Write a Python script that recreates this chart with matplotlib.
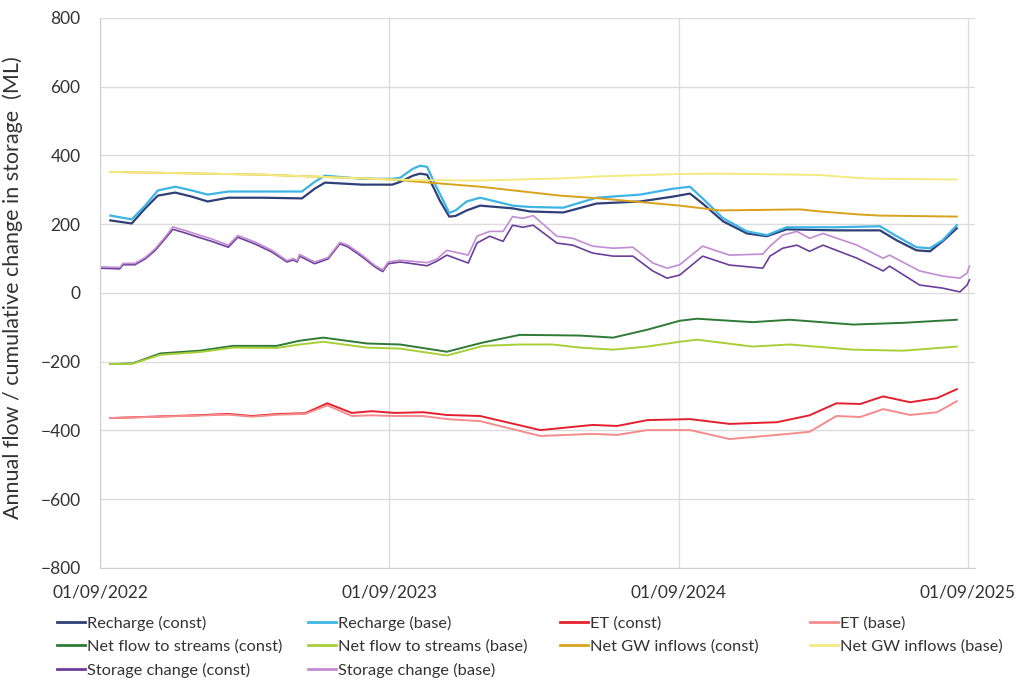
import matplotlib
matplotlib.use("Agg")
import matplotlib.pyplot as plt
import matplotlib.dates as mdates
from matplotlib.lines import Line2D
import pandas as pd

plt.rcParams["font.family"] = ["Lato", "DejaVu Sans"]

# recharge, ML per year (const vs base climate)
recharge_dates = [
    "2022-09-14", "2022-10-11", "2022-10-28", "2022-11-13", "2022-12-05",
    "2022-12-26", "2023-01-15", "2023-02-10", "2023-03-25", "2023-05-14",
    "2023-05-30", "2023-06-12", "2023-07-29", "2023-09-05", "2023-09-15",
    "2023-10-01", "2023-10-10", "2023-10-19", "2023-10-28", "2023-11-04",
    "2023-11-16", "2023-11-24", "2023-12-08", "2023-12-25", "2024-02-04",
    "2024-02-26", "2024-04-08", "2024-05-20", "2024-07-14", "2024-08-24",
    "2024-09-15", "2024-10-01", "2024-10-27", "2024-11-26", "2024-12-21",
    "2025-01-15", "2025-03-19", "2025-05-13", "2025-06-03", "2025-06-28",
    "2025-07-15", "2025-07-31", "2025-08-18",
]
recharge_const = [211, 202, 246, 283, 292, 280, 266, 277, 277, 275,
                  303, 321, 315, 315, 323, 341, 347, 344, 303, 269,
                  222, 224, 240, 254, 246, 237, 234, 260, 266, 280,
                  289, 260, 208, 173, 165, 185, 182, 182, 153, 124,
                  121, 150, 188]
recharge_base = [225, 214, 254, 298, 309, 298, 286, 295, 295, 295,
                 323, 341, 332, 332, 335, 361, 370, 367, 322, 289,
                 233, 240, 266, 277, 254, 250, 248, 277, 286, 303,
                 309, 275, 217, 179, 168, 191, 191, 194, 165, 133,
                 130, 153, 197]

# evapotranspiration
et_dates = [
    "2022-09-14", "2022-12-30", "2023-02-10", "2023-03-12", "2023-04-14",
    "2023-05-18", "2023-06-15", "2023-07-16", "2023-08-10", "2023-09-08",
    "2023-10-14", "2023-11-13", "2023-12-25", "2024-03-10", "2024-05-15",
    "2024-06-15", "2024-07-23", "2024-09-15", "2024-11-04", "2025-01-03",
    "2025-02-13", "2025-03-19", "2025-04-18", "2025-05-17", "2025-06-20",
    "2025-07-24", "2025-08-18",
]
et_const = [-364, -356, -352, -358, -352, -350, -321, -349, -344, -349,
            -347, -355, -358, -399, -384, -387, -370, -367, -381, -376,
            -356, -321, -323, -301, -318, -306, -280]
et_base = [-364, -357, -354, -360, -354, -352, -327, -358, -356, -358,
           -358, -367, -373, -416, -410, -413, -399, -399, -425, -413,
           -404, -358, -361, -338, -355, -347, -315]

# net flow to streams
streams_dates = [
    "2022-09-14", "2022-10-12", "2022-11-16", "2023-01-05", "2023-02-16",
    "2023-04-12", "2023-05-11", "2023-06-10", "2023-08-04", "2023-09-15",
    "2023-11-13", "2023-12-29", "2024-02-13", "2024-03-26", "2024-04-29",
    "2024-06-10", "2024-07-23", "2024-09-02", "2024-09-24", "2024-12-03",
    "2025-01-19", "2025-04-09", "2025-06-11", "2025-08-18",
]
streams_const = [-207, -205, -176, -168, -154, -154, -139, -130, -147, -150,
                 -171, -144, -122, -123, -124, -130, -107, -81, -75, -85,
                 -78, -92, -87, -78]
streams_base = [-207, -206, -180, -172, -159, -160, -150, -142, -159, -162,
                -182, -154, -150, -150, -159, -165, -156, -142, -136, -156,
                -150, -165, -168, -156]

# net groundwater inflows
gw_dates = [
    "2022-09-14", "2023-03-25", "2023-09-05", "2023-10-10", "2023-12-25",
    "2024-04-04", "2024-05-24", "2024-09-02", "2024-10-23", "2025-02-01",
    "2025-02-26", "2025-04-18", "2025-05-13", "2025-08-18",
]
gw_const = [352, 344, 330, 323, 309, 283, 275, 254, 240, 243, 237, 228, 225, 222]
gw_base = [352, 344, 330, 328, 327, 333, 339, 346, 347, 344, 343, 334, 332, 330]

# cumulative change in storage
storage_dates = [
    "2022-09-01", "2022-09-26", "2022-09-30", "2022-10-15", "2022-10-28",
    "2022-11-09", "2022-11-22", "2022-12-02", "2022-12-17", "2022-12-30",
    "2023-01-20", "2023-02-10", "2023-02-22", "2023-03-16", "2023-04-06",
    "2023-04-25", "2023-05-03", "2023-05-08", "2023-05-11", "2023-05-30",
    "2023-06-16", "2023-07-01", "2023-07-11", "2023-07-29", "2023-08-14",
    "2023-08-24", "2023-08-31", "2023-09-15", "2023-10-01", "2023-10-19",
    "2023-10-31", "2023-11-13", "2023-12-10", "2023-12-21", "2024-01-06",
    "2024-01-23", "2024-02-04", "2024-02-17", "2024-03-01", "2024-03-31",
    "2024-04-20", "2024-05-15", "2024-06-10", "2024-07-05", "2024-07-30",
    "2024-08-17", "2024-09-02", "2024-10-01", "2024-11-04", "2024-12-16",
    "2024-12-25", "2025-01-10", "2025-01-28", "2025-02-13", "2025-03-02",
    "2025-04-14", "2025-05-17", "2025-05-25", "2025-07-02", "2025-07-31",
    "2025-08-22", "2025-08-31", "2025-09-03",
]
storage_const = [72, 70, 82, 82, 99, 122, 157, 185, 175, 165,
                 150, 133, 162, 142, 119, 90, 96, 90, 107, 85,
                 99, 143, 134, 105, 76, 62, 85, 90, 85, 79,
                 92, 110, 87, 145, 165, 150, 197, 191, 197, 145,
                 139, 116, 107, 107, 64, 43, 52, 107, 81, 72,
                 107, 130, 139, 121, 139, 101, 64, 78, 23, 14,
                 3, 23, 38]
storage_base = [76, 74, 86, 86, 103, 127, 162, 192, 182, 172,
                157, 139, 167, 148, 124, 94, 100, 94, 112, 90,
                103, 147, 139, 110, 80, 67, 90, 95, 92, 88,
                98, 124, 110, 165, 179, 179, 222, 217, 225, 165,
                159, 136, 130, 133, 87, 72, 82, 136, 110, 113,
                136, 168, 179, 159, 173, 139, 101, 110, 64, 49,
                43, 58, 78]

year_ticks = ["2022-09-01", "2023-09-01", "2024-09-01", "2025-09-01"]

series = [
    ("Recharge (const)", recharge_dates, recharge_const, "#2f3f78", 1.6),
    ("Recharge (base)", recharge_dates, recharge_base, "#3cb4e5", 1.6),
    ("ET (const)", et_dates, et_const, "#e5202e", 1.4),
    ("ET (base)", et_dates, et_base, "#f48c8c", 1.4),
    ("Net flow to streams (const)", streams_dates, streams_const, "#2f7a35", 1.4),
    ("Net flow to streams (base)", streams_dates, streams_base, "#a9cf38", 1.4),
    ("Net GW inflows (const)", gw_dates, gw_const, "#d9a21b", 1.4),
    ("Net GW inflows (base)", gw_dates, gw_base, "#f3ea80", 1.4),
    ("Storage change (const)", storage_dates, storage_const, "#6b3f9b", 1.2),
    ("Storage change (base)", storage_dates, storage_base, "#c28bd2", 1.2),
]

fig = plt.figure(figsize=(10.27, 6.81), dpi=100)
ax = fig.add_axes([0.0974, 0.166, 0.852, 0.8077])

handles = {}
for name, d, v, c, lw in series:
    ln, = ax.plot(pd.to_datetime(d), v, color=c, lw=lw, label=name,
                  solid_joinstyle="round")
    handles[name] = ln

ax.set_ylim(-800, 800)
ax.set_yticks(range(-800, 801, 200))
ax.set_xlim(pd.Timestamp("2022-09-01"), pd.Timestamp("2025-09-10"))
ax.set_xticks(pd.to_datetime(year_ticks))
ax.xaxis.set_major_formatter(mdates.DateFormatter("%d/%m/%Y"))

ax.grid(True, color="#dcdcdc", lw=1)
ax.set_axisbelow(True)
for s in ["top", "right"]:
    ax.spines[s].set_visible(False)
ax.spines["left"].set_color("#cfcfcf")
ax.spines["bottom"].set_color("#cfcfcf")
ax.tick_params(axis="both", length=0, labelsize=12.5, colors="#333333")
ax.tick_params(axis="x", pad=12)
ax.tick_params(axis="y", pad=14)

ax.set_ylabel("Annual flow / cumulative change in storage  (ML)",
              fontsize=15.5, color="#333333")
ax.yaxis.set_label_coords(-0.088, 0.51)

# legend laid out as four fixed columns under the plot
columns = [
    (57, ["Recharge (const)", "Net flow to streams (const)", "Storage change (const)"]),
    (308, ["Recharge (base)", "Net flow to streams (base)", "Storage change (base)"]),
    (560, ["ET (const)", "Net GW inflows (const)"]),
    (810, ["ET (base)", "Net GW inflows (base)"]),
]
for xpx, names in columns:
    hs = [Line2D([], [], color=handles[n].get_color(), lw=2) for n in names]
    fig.legend(hs, names, loc="upper left",
               bbox_to_anchor=(xpx / 1027, 1 - 616 / 681),
               frameon=False, fontsize=11.8, handlelength=1.7,
               handletextpad=0.12, borderpad=0, borderaxespad=0,
               labelspacing=0.52, labelcolor="#333333")

fig.savefig("out.png", dpi=100)
